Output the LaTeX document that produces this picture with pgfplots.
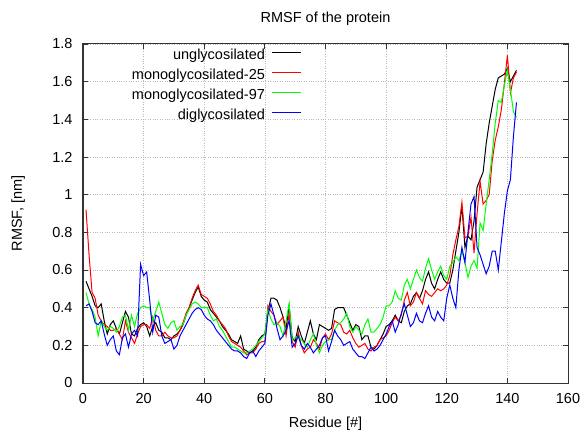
\documentclass[border=0pt]{standalone}
\usepackage{fontspec}
\setmainfont{Liberation Sans}
\usepackage{pgfplots}
\pgfplotsset{compat=1.18}
\usepackage{pgfplotstable}

\definecolor{gpred}{RGB}{255,0,0}
\definecolor{gpgreen}{RGB}{0,255,0}
\definecolor{gpblue}{RGB}{0,0,255}

% residue, RMSF [nm]
\pgfplotstableread{
x y
1 0.54
2 0.50
3 0.46
4 0.41
5 0.40
6 0.42
7 0.33
8 0.26
9 0.31
10 0.33
11 0.29
12 0.26
13 0.32
14 0.38
15 0.35
16 0.26
17 0.25
18 0.29
19 0.31
20 0.32
21 0.30
22 0.25
23 0.30
24 0.32
25 0.28
26 0.27
27 0.24
28 0.24
29 0.23
30 0.25
31 0.26
32 0.28
33 0.31
34 0.36
35 0.40
36 0.44
37 0.48
38 0.51
39 0.46
40 0.44
41 0.43
42 0.39
43 0.37
44 0.35
45 0.33
46 0.30
47 0.28
48 0.26
49 0.23
50 0.22
51 0.21
52 0.25
53 0.18
54 0.17
55 0.16
56 0.17
57 0.19
58 0.23
59 0.25
60 0.26
61 0.38
62 0.45
63 0.45
64 0.44
65 0.40
66 0.35
67 0.29
68 0.41
69 0.24
70 0.22
71 0.30
72 0.25
73 0.21
74 0.27
75 0.33
76 0.26
77 0.23
78 0.31
79 0.30
80 0.29
81 0.28
82 0.29
83 0.39
84 0.40
85 0.40
86 0.40
87 0.36
88 0.32
89 0.28
90 0.31
91 0.30
92 0.23
93 0.25
94 0.25
95 0.19
96 0.18
97 0.20
98 0.23
99 0.26
100 0.30
101 0.31
102 0.33
103 0.36
104 0.33
105 0.32
106 0.38
107 0.41
108 0.42
109 0.46
110 0.48
111 0.45
112 0.49
113 0.55
114 0.59
115 0.53
116 0.50
117 0.55
118 0.59
119 0.55
120 0.53
121 0.53
122 0.60
123 0.70
124 0.80
125 0.94
126 0.72
127 0.78
128 0.76
129 0.86
130 1.04
131 1.08
132 1.12
133 1.27
134 1.38
135 1.47
136 1.56
137 1.62
138 1.63
139 1.64
140 1.67
141 1.60
142 1.63
143 1.66
}\ungly

\pgfplotstableread{
x y
1 0.92
2 0.68
3 0.48
4 0.45
5 0.36
6 0.33
7 0.31
8 0.30
9 0.28
10 0.28
11 0.29
12 0.26
13 0.23
14 0.33
15 0.27
16 0.24
17 0.21
18 0.26
19 0.30
20 0.31
21 0.31
22 0.29
23 0.35
24 0.28
25 0.25
26 0.25
27 0.27
28 0.25
29 0.24
30 0.24
31 0.25
32 0.28
33 0.32
34 0.37
35 0.40
36 0.45
37 0.49
38 0.52
39 0.47
40 0.46
41 0.45
42 0.42
43 0.38
44 0.36
45 0.33
46 0.31
47 0.29
48 0.25
49 0.22
50 0.21
51 0.20
52 0.19
53 0.17
54 0.15
55 0.16
56 0.16
57 0.18
58 0.21
59 0.22
60 0.22
61 0.41
62 0.38
63 0.36
64 0.31
65 0.33
66 0.35
67 0.25
68 0.37
69 0.22
70 0.19
71 0.27
72 0.20
73 0.16
74 0.18
75 0.19
76 0.23
77 0.21
78 0.18
79 0.24
80 0.26
81 0.23
82 0.26
83 0.33
84 0.32
85 0.31
86 0.27
87 0.26
88 0.28
89 0.24
90 0.21
91 0.19
92 0.20
93 0.21
94 0.18
95 0.17
96 0.19
97 0.20
98 0.23
99 0.24
100 0.25
101 0.28
102 0.32
103 0.35
104 0.33
105 0.36
106 0.44
107 0.48
108 0.41
109 0.43
110 0.48
111 0.45
112 0.42
113 0.49
114 0.47
115 0.46
116 0.48
117 0.50
118 0.49
119 0.50
120 0.52
121 0.57
122 0.68
123 0.76
124 0.83
125 0.96
126 0.77
127 0.78
128 0.88
129 0.69
130 0.90
131 1.07
132 0.95
133 0.97
134 1.00
135 1.18
136 1.29
137 1.36
138 1.45
139 1.59
140 1.74
141 1.54
142 1.62
143 1.65
}\monoA

\pgfplotstableread{
x y
1 0.48
2 0.42
3 0.39
4 0.35
5 0.25
6 0.33
7 0.30
8 0.28
9 0.30
10 0.29
11 0.27
12 0.30
13 0.35
14 0.36
15 0.28
16 0.36
17 0.30
18 0.37
19 0.40
20 0.41
21 0.40
22 0.40
23 0.33
24 0.38
25 0.43
26 0.37
27 0.31
28 0.29
29 0.32
30 0.33
31 0.28
32 0.30
33 0.31
34 0.36
35 0.39
36 0.42
37 0.43
38 0.42
39 0.40
40 0.40
41 0.40
42 0.36
43 0.33
44 0.34
45 0.30
46 0.28
47 0.25
48 0.22
49 0.19
50 0.19
51 0.18
52 0.17
53 0.16
54 0.16
55 0.17
56 0.18
57 0.20
58 0.22
59 0.24
60 0.26
61 0.39
62 0.34
63 0.31
64 0.32
65 0.30
66 0.25
67 0.33
68 0.42
69 0.23
70 0.24
71 0.25
72 0.23
73 0.21
74 0.19
75 0.23
76 0.26
77 0.20
78 0.16
79 0.20
80 0.22
81 0.23
82 0.23
83 0.28
84 0.31
85 0.32
86 0.34
87 0.37
88 0.30
89 0.27
90 0.30
91 0.28
92 0.26
93 0.31
94 0.34
95 0.27
96 0.27
97 0.29
98 0.31
99 0.35
100 0.41
101 0.41
102 0.43
103 0.49
104 0.45
105 0.44
106 0.52
107 0.55
108 0.50
109 0.55
110 0.60
111 0.56
112 0.54
113 0.61
114 0.66
115 0.60
116 0.55
117 0.59
118 0.62
119 0.57
120 0.55
121 0.62
122 0.64
123 0.67
124 0.65
125 0.70
126 0.64
127 0.56
128 0.62
129 0.65
130 0.61
131 0.85
132 0.81
133 0.95
134 1.08
135 1.22
136 1.38
137 1.50
138 1.49
139 1.58
140 1.66
141 1.56
142 1.44
143 1.41
}\monoB

\pgfplotstableread{
x y
1 0.41
2 0.42
3 0.38
4 0.32
5 0.31
6 0.33
7 0.26
8 0.20
9 0.23
10 0.25
11 0.17
12 0.15
13 0.24
14 0.26
15 0.19
16 0.26
17 0.28
18 0.25
19 0.63
20 0.57
21 0.59
22 0.44
23 0.27
24 0.36
25 0.35
26 0.25
27 0.21
28 0.22
29 0.23
30 0.18
31 0.20
32 0.25
33 0.28
34 0.31
35 0.34
36 0.37
37 0.39
38 0.40
39 0.39
40 0.36
41 0.34
42 0.33
43 0.31
44 0.28
45 0.26
46 0.24
47 0.22
48 0.20
49 0.18
50 0.17
51 0.17
52 0.16
53 0.14
54 0.13
55 0.16
56 0.17
57 0.14
58 0.17
59 0.19
60 0.21
61 0.36
62 0.42
63 0.36
64 0.29
65 0.23
66 0.25
67 0.28
68 0.33
69 0.19
70 0.21
71 0.25
72 0.20
73 0.18
74 0.21
75 0.19
76 0.16
77 0.18
78 0.20
79 0.24
80 0.25
81 0.17
82 0.22
83 0.28
84 0.25
85 0.23
86 0.20
87 0.21
88 0.22
89 0.18
90 0.16
91 0.14
92 0.14
93 0.13
94 0.16
95 0.19
96 0.17
97 0.18
98 0.20
99 0.23
100 0.26
101 0.30
102 0.33
103 0.27
104 0.31
105 0.37
106 0.42
107 0.36
108 0.30
109 0.32
110 0.37
111 0.33
112 0.32
113 0.37
114 0.41
115 0.35
116 0.33
117 0.38
118 0.35
119 0.33
120 0.45
121 0.52
122 0.45
123 0.40
124 0.60
125 0.72
126 0.64
127 0.80
128 0.95
129 0.99
130 0.72
131 0.68
132 0.63
133 0.58
134 0.62
135 0.70
136 0.70
137 0.60
138 0.75
139 0.90
140 1.02
141 1.08
142 1.31
143 1.49
}\diglyc

\begin{document}
\begin{tikzpicture}[font=\fontsize{14.5}{17}\selectfont]
\useasboundingbox (0,0) rectangle (581pt,434pt);
\begin{axis}[
    at={(83pt,51pt)}, anchor=south west,
    scale only axis,
    width=485pt, height=339pt,
    xmin=0, xmax=160,
    ymin=0, ymax=1.8,
    xtick={0,20,...,160},
    ytick={0,0.2,...,1.8},
    /pgf/number format/assume math mode=true,
    tick align=inside,
    major tick length=5pt,
    tick style={black!80, line width=0.8pt},
    axis line style={black!80, line width=1pt},
    grid=major,
    grid style={dotted, gray!55, line width=0.6pt},
    xticklabel style={yshift=-7pt},
    yticklabel style={xshift=-7pt},
    title={RMSF of the protein},
    title style={at={(0.5,1)}, anchor=base, yshift=15pt},
    xlabel={Residue [\#]},
    xlabel style={at={(axis description cs:0.5,-0.12)}, anchor=center},
    ylabel={RMSF, [nm]},
    ylabel style={at={(axis description cs:-0.134,0.5)}, anchor=center},
    legend cell align=right,
    legend plot pos=right,
    legend image post style={xscale=1.7, yshift=3pt},
    legend style={draw=none, fill=none, inner sep=0pt, outer sep=0pt,
        at={(0.4515,0.99)}, anchor=north east, row sep=4pt,
        nodes={inner sep=1pt, text height=11pt, text depth=3pt},
        /tikz/every odd column/.append style={column sep=6pt}},
    every axis plot/.append style={line width=1pt},
]
\addplot[color=black] table[x=x, y=y] {\ungly};
\addlegendentry{unglycosilated}
\addplot[color=gpred] table[x=x, y=y] {\monoA};
\addlegendentry{monoglycosilated-25}
\addplot[color=gpgreen] table[x=x, y=y] {\monoB};
\addlegendentry{monoglycosilated-97}
\addplot[color=gpblue] table[x=x, y=y] {\diglyc};
\addlegendentry{diglycosilated}
\end{axis}
\end{tikzpicture}
\end{document}
